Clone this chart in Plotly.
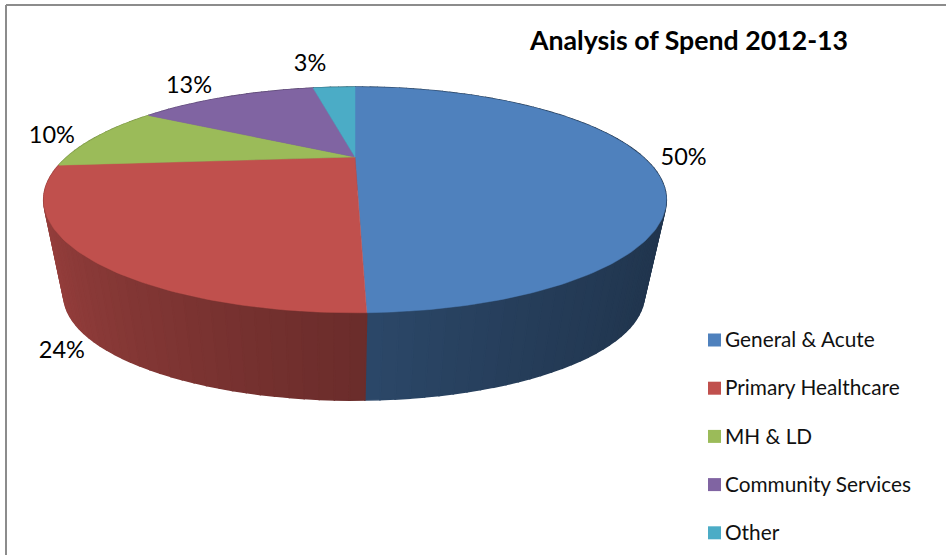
import math
import plotly.graph_objects as go

categories = ["General & Acute", "Primary Healthcare", "MH & LD", "Community Services", "Other"]
values = [49.6, 24.1, 9.9, 13.2, 3.2]
percent_labels = ["50%", "24%", "10%", "13%", "3%"]
colors = ["#4F81BD", "#C0504D", "#9BBB59", "#8064A2", "#4BACC6"]
title = "Analysis of Spend 2012-13"

# pixel offsets of each percent label from the rim at the slice's mid-angle
label_offsets = [(42, 3), (-42, 4), (-45, 0), (-39, -10), (-24, -22)]

PERSP = 0.38
TOP = dict(cx=355, cy=157, kx=288, ky=96.6)
BASE = dict(cx=354, cy=255, kx=268.5, ky=90)


def project(theta, plane):
    u, v = math.sin(theta), math.cos(theta)
    w = 1 + PERSP * v
    return plane["cx"] + plane["kx"] * u / w, plane["cy"] - plane["ky"] * v / w


def shade(hex_color, f):
    r, g, b = (int(hex_color[i:i + 2], 16) for i in (1, 3, 5))
    return f"rgb({r * f:.0f},{g * f:.0f},{b * f:.0f})"


total = sum(values)
bounds = [0.0]
for val in values:
    bounds.append(bounds[-1] + val / total * 2 * math.pi)

fig = go.Figure()

# side wall: narrow shaded strips, painted from the back to the front
strips = []
for i, color in enumerate(colors):
    a0, a1 = bounds[i], bounds[i + 1]
    n = max(2, int((a1 - a0) / math.radians(2)))
    step = (a1 - a0) / n
    for j in range(n):
        t0 = a0 + step * j
        t1 = t0 + step
        strips.append((t0, t1, color))
strips.sort(key=lambda s: -math.cos((s[0] + s[1]) / 2))
for t0, t1, color in strips:
    tm = (t0 + t1) / 2
    u = math.sin(tm)
    f = 0.56 - 0.2 * u + 0.05 * u * u if u < 0 else 0.56 - 0.25 * u + 0.09 * u * u
    p = [project(t0, TOP), project(t1, TOP), project(t1, BASE), project(t0, BASE), project(t0, TOP)]
    c = shade(color, f)
    fig.add_trace(go.Scatter(x=[q[0] for q in p], y=[q[1] for q in p], mode="lines", fill="toself",
                             fillcolor=c, line=dict(color=c, width=1.5), hoverinfo="skip", showlegend=False))

# top face
for i, (name, color) in enumerate(zip(categories, colors)):
    a0, a1 = bounds[i], bounds[i + 1]
    n = max(8, int((a1 - a0) / math.radians(1)))
    pts = [(TOP["cx"], TOP["cy"])] + [project(a0 + (a1 - a0) * j / n, TOP) for j in range(n + 1)] + [(TOP["cx"], TOP["cy"])]
    fig.add_trace(go.Scatter(x=[q[0] for q in pts], y=[q[1] for q in pts], mode="lines", fill="toself",
                             fillcolor=color, line=dict(color=color, width=0.5), name=name,
                             hoverinfo="name", showlegend=False))

# percent labels
lx, ly = [], []
for i in range(len(values)):
    mid = (bounds[i] + bounds[i + 1]) / 2
    px, py = project(mid, BASE if i == 1 else TOP)
    lx.append(px + label_offsets[i][0])
    ly.append(py + label_offsets[i][1])
fig.add_trace(go.Scatter(x=lx, y=ly, mode="text", text=percent_labels, textposition="middle center",
                         textfont=dict(family="Lato", size=23.5, color="#000000"), hoverinfo="skip", showlegend=False))

# legend
legend_y = [340 + 48.2 * i for i in range(len(categories))]
fig.add_trace(go.Scatter(x=[714.5] * len(categories), y=legend_y, mode="markers",
                         marker=dict(symbol="square", size=13, color=colors),
                         hoverinfo="skip", showlegend=False))
fig.add_trace(go.Scatter(x=[725] * len(categories), y=[yy + 2 for yy in legend_y], mode="text",
                         text=categories, textposition="middle right",
                         textfont=dict(family="Lato", size=20.8, color="#111111"),
                         hoverinfo="skip", showlegend=False))

fig.update_layout(
    width=946, height=555, margin=dict(l=0, r=0, t=0, b=0),
    paper_bgcolor="white", plot_bgcolor="white",
    title=dict(text=f"<b>{title}</b>", x=689 / 946, y=1 - 41 / 555, xanchor="center", yanchor="middle",
               font=dict(family="Lato", size=26.7, color="#000000")),
    xaxis=dict(range=[0, 946], visible=False, fixedrange=True),
    yaxis=dict(range=[555, 0], visible=False, fixedrange=True),
    shapes=[
        dict(type="line", x0=6, x1=6, y0=5, y1=555, line=dict(color="#8c8c8c", width=2)),
        dict(type="line", x0=6, x1=946, y0=5, y1=5, line=dict(color="#8c8c8c", width=2)),
    ],
)
fig.write_html("out.html", config={"displayModeBar": False},
               post_script="document.body.style.margin='0';")
